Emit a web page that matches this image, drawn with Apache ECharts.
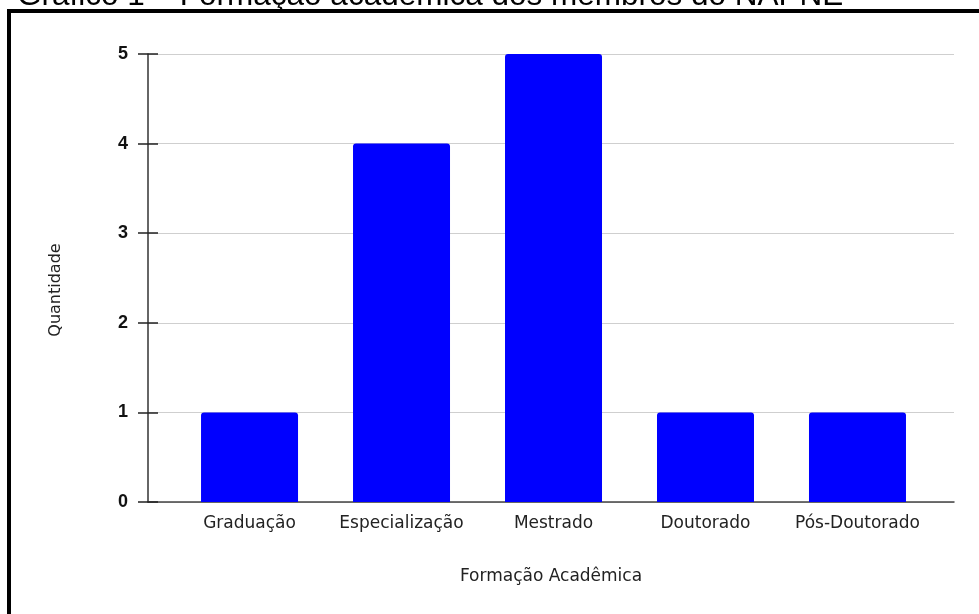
<!DOCTYPE html>
<html>
<head>
<meta charset="utf-8">
<script src="https://cdn.jsdelivr.net/npm/echarts@6/dist/echarts.min.js"></script>
<style>
html, body { margin: 0; padding: 0; background: #fff; }
#chart { width: 979px; height: 614px; }
</style>
</head>
<body>
<div id="chart"></div>
<script>
// dados
const titulo = 'Gráfico 1 – Formação acadêmica dos membros do NAPNE';
const categorias = ['Graduação', 'Especialização', 'Mestrado', 'Doutorado', 'Pós-Doutorado'];
const quantidades = [1, 4, 5, 1, 1];
const ticksY = [0, 1, 2, 3, 4, 5];

const myChart = echarts.init(document.getElementById('chart'));

const indices = categorias.map((c, i) => i);

const option = {
    animation: false,
    graphic: [
        {
            type: 'text',
            left: 17,
            top: -20,
            style: {
                text: titulo,
                font: '31.5px "Liberation Sans", Arial, sans-serif',
                fill: '#000'
            }
        },
        {
            type: 'rect',
            shape: { x: 9, y: 11, width: 1000, height: 700 },
            style: { fill: 'none', stroke: '#000', lineWidth: 4 }
        }
    ],
    grid: {
        left: 148,
        right: 25,
        top: 54,
        bottom: 112
    },
    xAxis: {
        type: 'value',
        min: -0.668,
        max: 4.635,
        name: 'Formação Acadêmica',
        nameLocation: 'middle',
        nameGap: 66,
        nameTextStyle: {
            fontFamily: 'DejaVu Sans',
            fontSize: 17,
            color: '#222'
        },
        axisLine: { show: true, onZero: false, lineStyle: { color: '#444', width: 1.5 } },
        axisTick: { show: false },
        splitLine: { show: false },
        axisLabel: {
            customValues: indices,
            formatter: (v) => categorias[Math.round(v)],
            fontFamily: 'DejaVu Sans',
            fontSize: 17,
            color: '#222',
            margin: 13
        }
    },
    yAxis: [
        {
            type: 'value',
            min: 0,
            max: 5,
            interval: 1,
            name: 'Quantidade',
            nameLocation: 'middle',
            nameGap: 84,
            nameRotate: 90,
            nameTextStyle: {
                fontFamily: 'DejaVu Sans',
                fontSize: 16,
                color: '#222',
                padding: [0, 24, 0, 0]
            },
            axisLine: { show: true, onZero: false, lineStyle: { color: '#333', width: 1.5 } },
            axisTick: { show: true, length: 10, lineStyle: { color: '#222', width: 1.5 } },
            splitLine: { show: true, lineStyle: { color: '#cfcfcf', width: 1 } },
            axisLabel: {
                customValues: ticksY,
                fontFamily: '"Liberation Sans", Arial, sans-serif',
                fontWeight: 'bold',
                fontSize: 18,
                color: '#111',
                margin: 20
            }
        },
        {
            // parte interna dos traços do eixo
            type: 'value',
            position: 'left',
            min: 0,
            max: 5,
            interval: 1,
            axisLine: { show: false, onZero: false },
            axisTick: { show: true, inside: true, length: 10, lineStyle: { color: '#222', width: 1.5 } },
            axisLabel: { show: false },
            splitLine: { show: false }
        }
    ],
    series: [
        {
            type: 'bar',
            barWidth: 97,
            data: quantidades.map((q, i) => [i, q]),
            itemStyle: {
                color: '#0000ff',
                borderRadius: [3, 3, 0, 0]
            }
        }
    ]
};

myChart.setOption(option);
</script>
</body>
</html>
